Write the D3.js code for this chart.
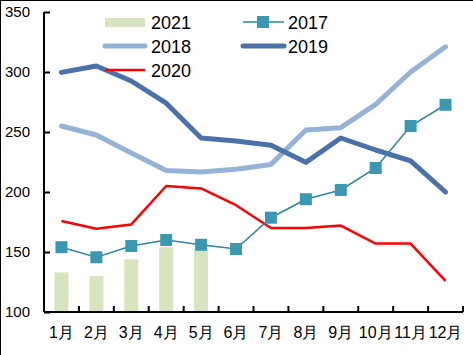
<!DOCTYPE html>
<html><head><meta charset="utf-8">
<script src="https://cdn.jsdelivr.net/npm/d3@7/dist/d3.min.js"></script>
<style>body{margin:0;background:#fff}svg{display:block}text{font-family:"Liberation Sans",Arial,sans-serif;fill:#000}</style>
</head><body>
<script>
const months = ["1月","2月","3月","4月","5月","6月","7月","8月","9月","10月","11月","12月"];
const yTicks = [100,150,200,250,300,350];
const s2021 = [133,130,144,154,152];
const s2017 = [154,145.6,155,160,156,152.5,178.6,194,201.7,220,255,272.7];
const s2018 = [255,247.5,232.5,218,216.7,219,223,251.7,253.6,273,300,321];
const s2019 = [299.7,305,292.5,274,245,242.5,239,224.7,245,235,226,200];
const s2020 = [175.8,169.4,173,205,203,189,170,170,172,157,157,126];

const W=473,H=355;
const svg=d3.select("body").append("svg").attr("width",W).attr("height",H);
const x=d3.scaleBand().domain(months).range([44,463]);
const y=d3.scaleLinear().domain([100,350]).range([312,12]);
const cx=m=>x(m)+x.bandwidth()/2;

svg.append("line").attr("x1",0).attr("x2",W).attr("y1",0.5).attr("y2",0.5).attr("stroke","#000");
svg.append("line").attr("x1",0.5).attr("x2",0.5).attr("y1",0).attr("y2",H).attr("stroke","#000");

svg.selectAll("rect.b").data(s2021).join("rect")
  .attr("x",(d,i)=>cx(months[i])-7).attr("width",14)
  .attr("y",d=>y(d)).attr("height",d=>y(100)-y(d)).attr("fill","#d7e4bd");

const line=d3.line().x((d,i)=>cx(months[i])).y(d=>y(d));
svg.append("path").attr("d",line(s2018)).attr("fill","none").attr("stroke","#95b3d7").attr("stroke-width",5).attr("stroke-linejoin","round").attr("stroke-linecap","round");
svg.append("path").attr("d",line(s2019)).attr("fill","none").attr("stroke","#4a72a8").attr("stroke-width",5).attr("stroke-linejoin","round").attr("stroke-linecap","round");
svg.append("path").attr("d",line(s2020)).attr("fill","none").attr("stroke","#ff0000").attr("stroke-width",2.5).attr("stroke-linejoin","round");
svg.append("path").attr("d",line(s2017)).attr("fill","none").attr("stroke","#31869b").attr("stroke-width",1.6);
svg.selectAll("rect.m").data(s2017).join("rect")
  .attr("x",(d,i)=>cx(months[i])-6).attr("y",d=>y(d)-6).attr("width",12).attr("height",12).attr("fill","#3a98b2");

const ya=svg.append("g").attr("transform","translate(44,0)")
  .call(d3.axisRight(y).tickValues(yTicks).tickSize(6).tickFormat(d3.format("d")));
ya.select(".domain").attr("stroke","#000").attr("stroke-width",2).attr("d","M0,12V312");
ya.selectAll(".tick line").attr("stroke","#000").attr("stroke-width",2);
ya.selectAll(".tick text").attr("x",-14).attr("text-anchor","end").attr("font-size",15).attr("font-family","Liberation Sans, Arial, sans-serif").attr("fill","#000");

const xa=svg.append("g").attr("transform","translate(0,312)")
  .call(d3.axisBottom(x).tickSize(0).tickPadding(15));
xa.select(".domain").attr("stroke","#000").attr("stroke-width",2).attr("d","M44,0H463");
xa.selectAll(".tick text").attr("font-size",16).attr("font-family","Liberation Sans, Arial, sans-serif").attr("fill","#000");
const bounds=months.map(m=>x(m)+x.bandwidth());
svg.selectAll("line.xt").data(bounds).join("line")
  .attr("x1",d=>d).attr("x2",d=>d).attr("y1",312).attr("y2",306).attr("stroke","#000").attr("stroke-width",2);

const lg=svg.append("g");
lg.append("rect").attr("x",105).attr("y",18).attr("width",40).attr("height",9).attr("fill","#d7e4bd");
lg.append("text").attr("x",151).attr("y",29).attr("font-size",18).text("2021");
lg.append("line").attr("x1",105).attr("x2",145).attr("y1",46).attr("y2",46).attr("stroke","#95b3d7").attr("stroke-width",5).attr("stroke-linecap","round");
lg.append("text").attr("x",151).attr("y",53).attr("font-size",18).text("2018");
lg.append("line").attr("x1",105).attr("x2",145).attr("y1",70).attr("y2",70).attr("stroke","#ff0000").attr("stroke-width",2.5);
lg.append("text").attr("x",151).attr("y",77).attr("font-size",18).text("2020");
lg.append("line").attr("x1",243).attr("x2",284).attr("y1",22).attr("y2",22).attr("stroke","#31869b").attr("stroke-width",1.6);
lg.append("rect").attr("x",257).attr("y",16).attr("width",12).attr("height",12).attr("fill","#3a98b2");
lg.append("text").attr("x",288).attr("y",29).attr("font-size",18).text("2017");
lg.append("line").attr("x1",243).attr("x2",284).attr("y1",46).attr("y2",46).attr("stroke","#4a72a8").attr("stroke-width",5).attr("stroke-linecap","round");
lg.append("text").attr("x",288).attr("y",53).attr("font-size",18).text("2019");
</script>
</body></html>
